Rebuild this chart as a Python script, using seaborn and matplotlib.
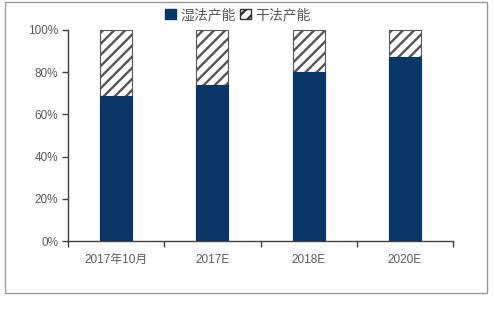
import matplotlib
matplotlib.use("Agg")
import matplotlib.pyplot as plt
import seaborn as sns
import pandas as pd
from matplotlib.patches import Rectangle
from matplotlib.ticker import FixedLocator

sns.set_style("white")
plt.rcParams['font.family'] = ['Liberation Sans', 'Noto Sans CJK SC', 'DejaVu Sans']
plt.rcParams['hatch.linewidth'] = 1.7

categories = ["2017年10月", "2017E", "2018E", "2020E"]
wet_share = [68.5, 74, 80, 87]          # 湿法产能 (%)
dry_share = [31.5, 26, 20, 13]          # 干法产能 (%)
y_ticks = [0, 20, 40, 60, 80, 100]

navy = "#0A3668"
text_gray = "#595959"

df = pd.DataFrame({"cat": categories, "wet": wet_share,
                   "total": [w + d for w, d in zip(wet_share, dry_share)]})

fig = plt.figure(figsize=(4.93, 3.25), dpi=100)
ax = fig.add_axes([68 / 493, 1 - 241 / 325, 385 / 493, 211 / 325])

# stacked total with hatch (dry share shows above wet share)
sns.barplot(data=df, x="cat", y="total", ax=ax, color="white", width=0.33,
            edgecolor="#555555", linewidth=0.8, hatch="///")
sns.barplot(data=df, x="cat", y="wet", ax=ax, color=navy, width=0.33,
            edgecolor=navy, linewidth=0.8, saturation=1)

ax.set_xlim(-0.5, 3.5)
ax.set_ylim(0, 100)
ax.set_yticks(y_ticks)
ax.set_yticklabels([f"{t}%" for t in y_ticks])
ax.set_xlabel("")
ax.set_ylabel("")

for s in ["top", "right"]:
    ax.spines[s].set_visible(False)
for s in ["left", "bottom"]:
    ax.spines[s].set_color("#404040")
    ax.spines[s].set_linewidth(1.0)

ax.tick_params(axis="y", which="major", left=True, length=4, width=1,
               color="#404040", labelsize=8.5, labelcolor=text_gray, pad=3)
ax.tick_params(axis="x", which="major", bottom=False, labelsize=8.5,
               labelcolor=text_gray, pad=6)
ax.xaxis.set_minor_locator(FixedLocator([-0.5, 0.5, 1.5, 2.5, 3.5]))
ax.tick_params(axis="x", which="minor", bottom=True, length=4, width=1,
               color="#404040")

# legend
h_wet = Rectangle((0, 0), 1, 1, facecolor=navy, edgecolor=navy)
h_dry = Rectangle((0, 0), 1, 1, facecolor="white", edgecolor="#303030",
                  hatch="///", linewidth=1.0)
fig.legend([h_wet, h_dry], ["湿法产能", "干法产能"], loc="center",
           bbox_to_anchor=(0.482, 1 - 15 / 325), ncol=2, frameon=False,
           fontsize=10, labelcolor=text_gray, handlelength=0.8,
           handleheight=0.8, handletextpad=0.3, columnspacing=0.3)

# outer frame
fig.patches.append(Rectangle((5 / 493, 1 - 293 / 325), 482 / 493, 291 / 325,
                             transform=fig.transFigure, fill=False,
                             edgecolor="#9a9a9a", linewidth=1.0))

fig.savefig("out.png", dpi=100)
